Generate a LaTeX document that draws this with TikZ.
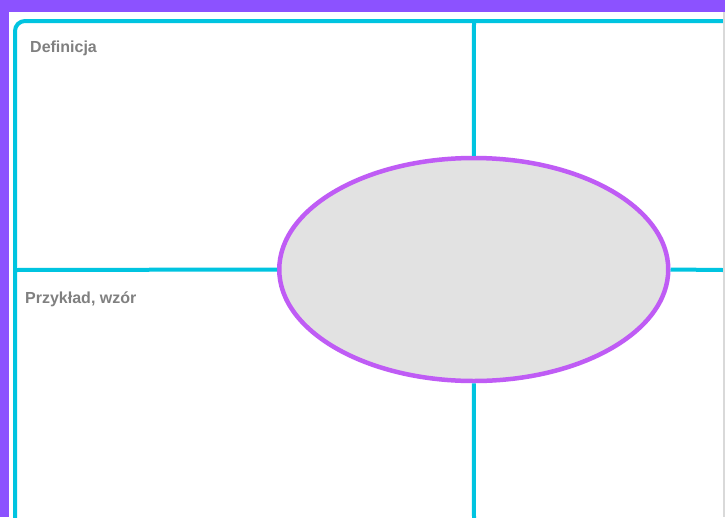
\documentclass[tikz,border=0pt]{standalone}
\usepackage{fontspec}
\setmainfont{Liberation Sans}
\usepackage{xcolor}
\usetikzlibrary{shapes.geometric}

\definecolor{bandpurple}{HTML}{8C52FF}
\definecolor{framecyan}{HTML}{00C4E0}
\definecolor{ovalpurple}{HTML}{BF5CF5}
\definecolor{ovalgray}{HTML}{E2E2E2}
\definecolor{labelgray}{HTML}{808080}

\begin{document}
\begin{tikzpicture}[
    x=1pt, y=-1pt,
    frame/.style={draw=framecyan, line width=4pt},
    oval/.style={ellipse, draw=ovalpurple, fill=ovalgray, line width=4.5pt,
        inner sep=0pt, minimum width=389pt, minimum height=223pt},
    label/.style={anchor=base west, inner sep=0pt, text=labelgray,
        font=\bfseries\fontsize{16}{19}\selectfont}
]
    \useasboundingbox (0,0) rectangle (725,517);
    \clip (0,0) rectangle (725,517);

    % Background
    \fill[bandpurple] (0,0) rectangle (725,517);
    \fill[white] (9,12) rectangle (725,517);

    % Frame
    \draw[frame, rounded corners=10pt] (15,21) rectangle (745,540);

    % Free ends of the cross
    \coordinate (top) at (474,21);
    \coordinate (bottom) at (474,520);
    \coordinate (left) at (15,270);
    \coordinate (right) at (723,270);

    % Centre
    \node[oval] (pojecie) at (473.75,269.5) {};

    % Cross
    \draw[frame] (top) -- (pojecie.north);
    \draw[frame] (pojecie.south) -- (bottom);
    \draw[frame] (left) -- (pojecie.west);
    \draw[frame] (pojecie.east) -- (right);

    % Right edge
    \draw[line width=1.5pt, draw=black!15] (724,12) -- (724,517);

    % Labels
    \node[label] (definicja) at (30,52.5) {Definicja};
    \node[label] (przyklad) at (25,303) {Przykład, wzór};
\end{tikzpicture}
\end{document}
